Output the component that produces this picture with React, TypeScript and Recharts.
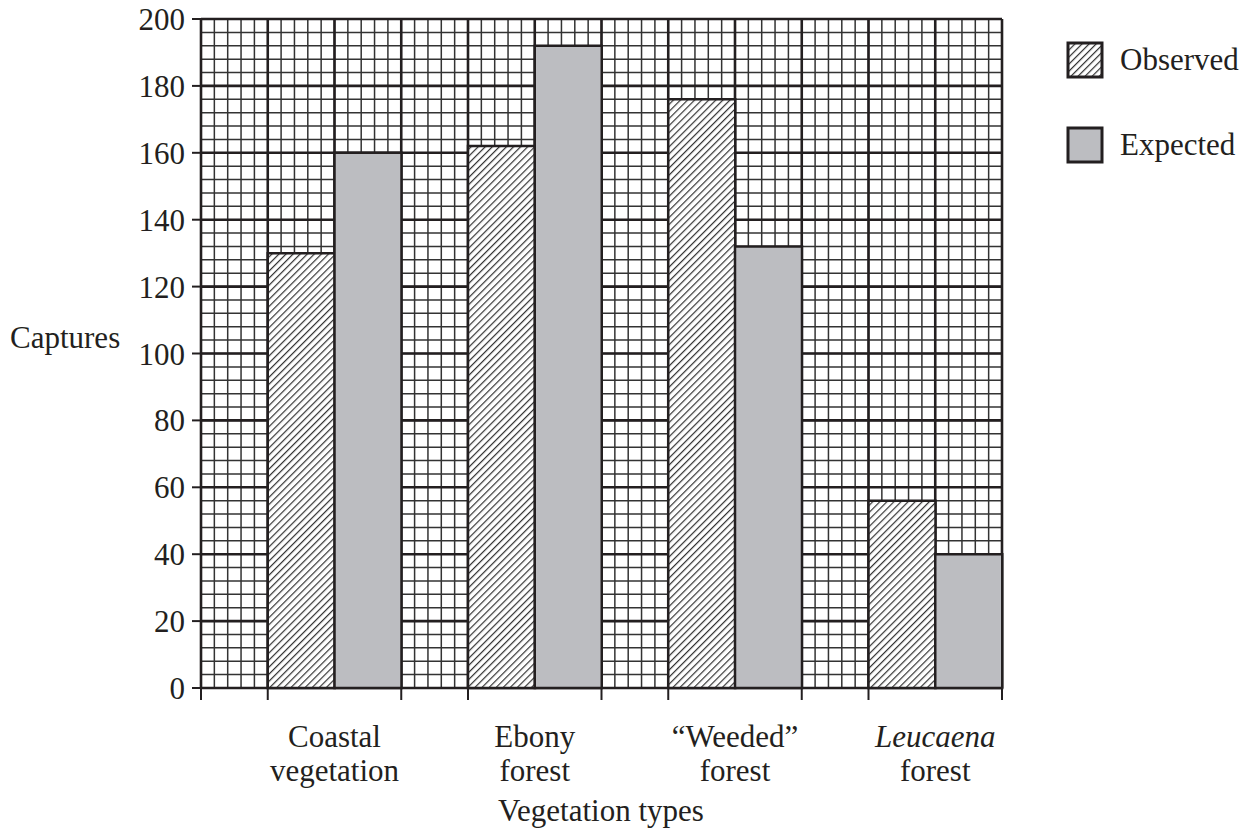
import { Bar, BarChart, CartesianGrid, XAxis, YAxis } from "recharts"

// Observed vs expected captures per vegetation type, drawn on graph paper.

const groupLine1 = ["Coastal", "Ebony", "\u201cWeeded\u201d", "Leucaena"]
const groupLine2 = ["vegetation", "forest", "forest", "forest"]
const italicGroup = [false, false, false, true]
const observed = [130, 162, 176, 56]
const expected = [160, 192, 132, 40]
const seriesNames = ["Observed", "Expected"]

const yTicks = [0, 20, 40, 60, 80, 100, 120, 140, 160, 180, 200]

const FONT = "'Liberation Serif', 'Times New Roman', serif"
const FONT_SIZE = 31
const INK = "#231f20"
const GREY = "#bcbdc1"

// each group takes three columns: empty, observed, expected
const rows = groupLine1.flatMap((_, i) => [
  { slot: `gap${i}`, group: i, kind: "gap", observed: null, expected: null },
  { slot: `obs${i}`, group: i, kind: "obs", observed: observed[i], expected: null },
  { slot: `exp${i}`, group: i, kind: "exp", observed: null, expected: expected[i] },
])

const minorY = Array.from({ length: 51 }, (_, i) => i * 4)

// vertical paper lines: 5 minor per column, one major per column edge
function paperLines(perColumn: number) {
  return ({ offset }: any) => {
    const steps = rows.length * perColumn
    return Array.from({ length: steps + 1 }, (_, i) => offset.left + (offset.width * i) / steps)
  }
}

function XTick(props: any) {
  const { x, y, payload } = props
  const row = rows[payload.index] ?? rows.find((r) => r.slot === payload.value)
  const half = payload.offset ?? 0
  const mark = (at: number) => (
    <line x1={at} x2={at} y1={y} y2={y + 12} stroke={INK} strokeWidth={2} />
  )
  if (!row) return null
  if (row.kind === "gap") return mark(x - half)
  if (row.kind === "exp") return row.group === groupLine1.length - 1 ? mark(x + half) : null
  const lx = x + half
  return (
    <g>
      {mark(x - half)}
      <text
        x={lx}
        y={y}
        textAnchor="middle"
        fontFamily={FONT}
        fontSize={FONT_SIZE}
        fill={INK}
        fontStyle={italicGroup[row.group] ? "italic" : "normal"}
      >
        <tspan x={lx} dy={59}>
          {groupLine1[row.group]}
        </tspan>
        <tspan x={lx} dy={34} fontStyle="normal">
          {groupLine2[row.group]}
        </tspan>
      </text>
    </g>
  )
}

function LegendBoxes() {
  return (
    <g>
      {seriesNames.map((name, i) => (
        <g key={name} transform={`translate(1060, ${35 + i * 85})`}>
          <rect
            x={0}
            y={0}
            width={34}
            height={34}
            fill={i === 0 ? "url(#hatch)" : GREY}
            stroke={INK}
            strokeWidth={3}
          />
          <text x={52} y={27} fontFamily={FONT} fontSize={FONT_SIZE} fill={INK}>
            {name}
          </text>
        </g>
      ))}
    </g>
  )
}

export default function App() {
  return (
    <BarChart
      width={1234}
      height={821}
      data={rows}
      margin={{ top: 11, right: 240, left: 0, bottom: 0 }}
      barCategoryGap={0}
      barGap={0}
    >
      <defs>
        <pattern
          id="hatch"
          patternUnits="userSpaceOnUse"
          width={5}
          height={5}
          patternTransform="rotate(45)"
        >
          <rect width={5} height={5} fill="#ffffff" />
          <line x1={0} y1={0} x2={0} y2={5} stroke="#333333" strokeWidth={2.4} />
        </pattern>
      </defs>
      <CartesianGrid
        horizontalValues={minorY}
        verticalCoordinatesGenerator={paperLines(5)}
        stroke="#333333"
        strokeWidth={1.5}
      />
      <CartesianGrid
        horizontalValues={yTicks}
        verticalCoordinatesGenerator={paperLines(1)}
        stroke={INK}
        strokeWidth={2.6}
      />
      <XAxis
        dataKey="slot"
        interval={0}
        height={141}
        tickSize={0}
        tickMargin={0}
        tickLine={false}
        axisLine={{ stroke: INK, strokeWidth: 2 }}
        tick={<XTick />}
      />
      <YAxis
        domain={[0, 200]}
        ticks={yTicks}
        interval={0}
        width={193}
        tickSize={9}
        tickMargin={7}
        tickLine={{ stroke: INK, strokeWidth: 2 }}
        axisLine={{ stroke: INK, strokeWidth: 2 }}
        tick={{ fontFamily: FONT, fontSize: FONT_SIZE, fill: INK }}
      />
      <Bar
        dataKey="observed"
        name={seriesNames[0]}
        stackId="v"
        fill="url(#hatch)"
        stroke={INK}
        strokeWidth={2.5}
        isAnimationActive={false}
      />
      <Bar
        dataKey="expected"
        name={seriesNames[1]}
        stackId="v"
        fill={GREY}
        stroke={INK}
        strokeWidth={2.5}
        isAnimationActive={false}
      />
      <text x={2} y={340} fontFamily={FONT} fontSize={FONT_SIZE} fill={INK}>
        Captures
      </text>
      <text x={593} y={813} textAnchor="middle" fontFamily={FONT} fontSize={FONT_SIZE} fill={INK}>
        Vegetation types
      </text>
      <LegendBoxes />
    </BarChart>
  )
}
